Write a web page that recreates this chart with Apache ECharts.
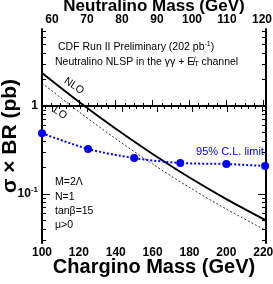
<!DOCTYPE html>
<html><head><meta charset="utf-8">
<script src="https://cdn.jsdelivr.net/npm/echarts@6/dist/echarts.min.js"></script>
<style>html,body{margin:0;padding:0;background:#fff}#c{width:273px;height:284px}</style>
</head><body><div id="c"></div>
<script>
// ---- data ----
const massNLO = [100, 120, 140, 160, 180, 200, 221.5];
const xsecNLO = [2.37, 1.117, 0.551, 0.285, 0.154, 0.0875, 0.0501];
const massLO = [100, 120, 140, 160, 180, 200, 221.5];
const xsecLO = [1.82, 0.86, 0.424, 0.219, 0.1185, 0.0673, 0.0385];
const massLimit = [100, 125, 150, 175, 200, 221];
const xsecLimit = [0.49, 0.325, 0.256, 0.225, 0.219, 0.208];
const bottomTicks = [100, 120, 140, 160, 180, 200, 220];
const topTicks = [60, 70, 80, 90, 100, 110, 120];
const topMinor = [58, 62, 64, 66, 68, 72, 74, 76, 78, 82, 84, 86, 88, 92, 94, 96, 98, 102, 104, 106, 108, 112, 114, 116, 118, 120];
const yMajor = [0.1, 1];
const yMinor = [0.03, 0.04, 0.05, 0.06, 0.07, 0.08, 0.09, 0.2, 0.3, 0.4, 0.5, 0.6, 0.7, 0.8, 0.9, 2, 3, 4, 5, 6, 7];

const L = v => Math.log10(v);
const FONT = 'Liberation Sans, Arial, sans-serif';
const chart = echarts.init(document.getElementById('c'), null, {renderer: 'canvas'});
const axisLine = {show: true, lineStyle: {color: '#000', width: 2}};
const lbl = {color: '#000', fontFamily: FONT, fontWeight: 'bold', fontSize: 12};
const txt = (x, y, s, extra) => Object.assign({type: 'text', x, y,
  style: Object.assign({text: s, fill: '#000', font: '10.5px ' + FONT, verticalAlign: 'middle'}, extra || {})});

chart.setOption({
  animation: false,
  backgroundColor: '#fff',
  grid: {left: 42, right: 7, top: 29, bottom: 41, containLabel: false, outerBoundsMode: 'none'},
  xAxis: [
    {type: 'value', position: 'bottom', min: 100, max: 221.5, interval: 20,
     axisLine, splitLine: {show: false},
     axisTick: {inside: true, length: 6, lineStyle: {color: '#000', width: 1}},
     minorTick: {show: true, splitNumber: 4, length: 3, lineStyle: {color: '#000', width: 1}},
     axisLabel: Object.assign({margin: 4, customValues: bottomTicks}, lbl),
     name: 'Chargino Mass (GeV)', nameLocation: 'middle', nameGap: 14, nameMoveOverlap: false,
     nameTextStyle: {color: '#000', fontFamily: FONT, fontWeight: 'bold', fontSize: 20}},
    {type: 'value', position: 'top', min: 57.14, max: 121.14,
     axisLine, splitLine: {show: false},
     axisTick: {inside: true, length: 6, customValues: topTicks, lineStyle: {color: '#000', width: 1}},
     axisLabel: Object.assign({margin: 3, customValues: topTicks}, lbl),
     name: 'Neutralino Mass (GeV)', nameLocation: 'middle', nameGap: 14, nameMoveOverlap: false,
     nameTextStyle: {color: '#000', fontFamily: FONT, fontWeight: 'bold', fontSize: 17}},
    {type: 'value', position: 'top', min: 57.14, max: 121.14,
     axisLine: {show: false}, splitLine: {show: false},
     axisTick: {inside: true, length: 3, customValues: topMinor, lineStyle: {color: '#000', width: 1}},
     axisLabel: {show: false}}
  ],
  yAxis: [
    {type: 'value', position: 'left', min: -1.557, max: 0.875,
     axisLine, splitLine: {show: false},
     axisTick: {inside: true, length: 8, customValues: yMajor.map(L), lineStyle: {color: '#000', width: 1}},
     axisLabel: {customValues: yMajor.map(L), margin: 4, color: '#000', fontFamily: FONT, fontWeight: 'bold', fontSize: 12,
       formatter: v => Math.abs(v) < 1e-6 ? '1' : '10{s|' + Math.round(v) + '}',
       rich: {s: {fontSize: 8, fontWeight: 'bold', fontFamily: FONT, verticalAlign: 'top', padding: [0, 0, 8, 0]}}},
     name: 'σ × BR (pb)', nameLocation: 'middle', nameGap: 21, nameMoveOverlap: false,
     nameTextStyle: {color: '#000', fontFamily: FONT, fontWeight: 'bold', fontSize: 21}},
    {type: 'value', position: 'left', min: -1.557, max: 0.875,
     axisLine: {show: false}, splitLine: {show: false},
     axisTick: {inside: true, length: 4, customValues: yMinor.map(L), lineStyle: {color: '#000', width: 1}},
     axisLabel: {show: false}},
    {type: 'value', position: 'right', min: -1.557, max: 0.875,
     axisLine, splitLine: {show: false},
     axisTick: {inside: true, length: 8, customValues: yMajor.map(L), lineStyle: {color: '#000', width: 1}},
     axisLabel: {show: false}},
    {type: 'value', position: 'right', min: -1.557, max: 0.875,
     axisLine: {show: false}, splitLine: {show: false},
     axisTick: {inside: true, length: 4, customValues: yMinor.map(L), lineStyle: {color: '#000', width: 1}},
     axisLabel: {show: false}}
  ],
  series: [
    {type: 'line', name: 'NLO', xAxisIndex: 0, yAxisIndex: 0, showSymbol: false, smooth: 0.3,
     data: massNLO.map((m, i) => [m, L(xsecNLO[i])]), lineStyle: {color: '#000', width: 2}},
    {type: 'line', name: 'LO', xAxisIndex: 0, yAxisIndex: 0, showSymbol: false, smooth: 0.3,
     data: massLO.map((m, i) => [m, L(xsecLO[i])]), lineStyle: {color: '#000', width: 0.8, type: [2, 2]}},
    {type: 'line', name: 'limit', xAxisIndex: 0, yAxisIndex: 0, smooth: 0.3, symbol: 'circle', symbolSize: 8,
     data: massLimit.map((m, i) => [m, L(xsecLimit[i])]),
     itemStyle: {color: '#0000ff'}, lineStyle: {color: '#0000ff', width: 2, type: [2, 2]}}
  ],
  graphic: [
    txt(58, 47, 'CDF Run II Preliminary (202 pb{s|-1})', {rich: {s: {fontSize: 7, fontFamily: FONT, verticalAlign: 'top', padding: [0, 0, 6, 0]}}}),
    txt(55, 62, 'Neutralino NLSP in the γγ + {e|E̸}{t|T} channel', {rich: {e: {fontSize: 10.5, fontFamily: FONT}, t: {fontSize: 7, fontFamily: FONT, verticalAlign: 'bottom', padding: [5, 0, 0, 0]}}}),
    {type: 'text', x: 74, y: 86, rotation: -0.6, style: {text: 'NLO', fill: '#000', font: '10.5px ' + FONT, align: 'center', verticalAlign: 'middle'}},
    {type: 'text', x: 60, y: 113, rotation: -0.6, style: {text: 'LO', fill: '#000', font: '10.5px ' + FONT, align: 'center', verticalAlign: 'middle'}},
    txt(230, 152, '95% C.L. limit', {fill: '#0000ff', font: '11px ' + FONT, align: 'center'}),
    txt(55, 182, 'M=2Λ'),
    txt(55, 197, 'N=1'),
    txt(55, 211, 'tanβ=15'),
    txt(55, 225, 'μ>0')
  ]
});
</script>
</body></html>
